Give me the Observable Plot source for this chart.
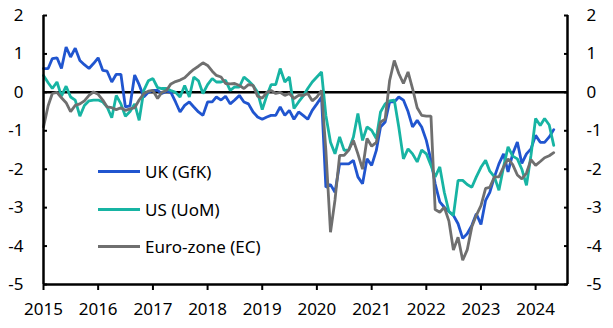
<!DOCTYPE html>
<html><head><meta charset="utf-8">
<script src="https://cdn.jsdelivr.net/npm/d3@7"></script>
<script src="https://cdn.jsdelivr.net/npm/@observablehq/plot@0.6"></script>
<style>
body{margin:0;background:#fff;}
#wrap{position:relative;width:613px;height:328px;font-family:"Noto Sans",sans-serif;}
.leg{position:absolute;left:98px;display:flex;align-items:center;font-size:17px;color:#000;white-space:nowrap;}
.leg span.sw{display:inline-block;width:42px;height:3px;margin-right:5px;}
</style></head>
<body><div id="wrap"></div>
<script>
const startMonth = "2015-01-01";
const ukGfK = [
0.62,0.62,0.88,0.9,0.62,1.18,0.92,1.15,0.83,0.72,0.62,0.75,
0.9,0.57,0.55,0.27,0.47,0.47,-0.38,-0.35,0.45,0.2,-0.12,0.0,
0.05,0.05,-0.03,0.03,0.0,-0.25,-0.51,-0.34,-0.25,-0.38,-0.51,-0.6,
-0.25,-0.25,-0.12,-0.2,-0.1,-0.3,-0.2,-0.08,-0.25,-0.3,-0.51,-0.64,
-0.7,-0.64,-0.6,-0.6,-0.38,-0.6,-0.47,-0.7,-0.51,-0.6,-0.7,-0.47,
-0.3,-0.12,-2.47,-2.4,-2.6,-1.86,-1.86,-1.86,-1.77,-2.2,-2.38,-1.73,
-1.9,-1.51,-0.9,-0.77,-0.25,-0.25,-0.12,-0.2,-0.5,-0.9,-0.73,-0.9,
-1.25,-1.77,-2.38,-2.85,-2.99,-3.1,-3.2,-3.42,-3.8,-3.68,-3.46,-3.16,
-3.44,-2.81,-2.6,-2.2,-1.86,-1.6,-2.07,-1.6,-1.29,-1.85,-1.6,-1.47,
-1.12,-1.3,-1.3,-1.16,-0.97];
const usUoM = [
0.44,0.25,0.1,0.27,-0.1,0.16,-0.12,-0.2,-0.62,-0.34,-0.22,-0.2,
-0.2,-0.25,-0.38,-0.66,-0.08,-0.3,-0.62,-0.5,-0.3,-0.73,0.05,0.3,
0.36,0.12,0.1,0.1,0.05,0.0,-0.12,0.18,-0.12,0.4,0.3,-0.03,
0.2,0.36,0.27,0.27,0.31,0.05,0.14,0.14,0.4,0.3,0.18,0.0,
-0.45,-0.08,0.2,0.2,0.62,0.27,0.4,-0.42,-0.25,-0.1,0.1,0.27,
0.4,0.53,-0.6,-1.3,-1.6,-1.16,-1.51,-1.5,-1.16,-0.55,-1.25,-0.9,
-0.99,-1.2,-0.51,-0.3,-0.22,-0.2,-0.9,-1.73,-1.47,-1.6,-1.81,-1.5,
-1.6,-1.9,-2.2,-1.94,-2.6,-3.1,-3.2,-2.29,-2.29,-2.4,-2.47,-2.2,
-1.95,-1.77,-2.05,-2.2,-2.55,-1.94,-1.42,-1.66,-1.73,-2.0,-2.42,-1.64,
-0.68,-0.86,-0.68,-0.85,-1.38];
const euroEC = [
-0.9,-0.35,-0.03,0.0,-0.14,-0.27,-0.5,-0.34,-0.3,-0.22,-0.08,0.01,
-0.05,-0.2,-0.38,-0.4,-0.45,-0.4,-0.47,-0.43,-0.4,-0.2,-0.03,0.03,
0.05,-0.16,0.0,0.05,0.22,0.28,0.32,0.38,0.5,0.6,0.68,0.77,
0.7,0.55,0.44,0.4,0.23,0.22,0.23,0.18,0.1,0.2,0.18,-0.1,
-0.15,0.0,0.05,-0.03,0.0,-0.08,-0.03,-0.16,-0.08,-0.08,-0.03,-0.22,
-0.12,0.05,-1.5,-3.64,-2.8,-1.64,-1.64,-1.5,-1.25,-1.6,-2.0,-1.2,
-1.4,-1.3,-0.77,-0.7,0.31,0.83,0.49,0.23,0.53,0.1,-0.4,-0.6,
-0.62,-0.62,-3.05,-3.12,-2.99,-3.35,-4.1,-3.77,-4.37,-4.1,-3.5,-3.2,
-2.95,-2.5,-2.47,-2.2,-2.2,-1.94,-1.73,-1.88,-2.15,-2.25,-2.1,-1.75,
-1.9,-1.8,-1.7,-1.65,-1.57];
const seriesNames = ["UK (GfK)", "US (UoM)", "Euro-zone (EC)"];
const seriesColors = ["#2055cf", "#17b4a3", "#6f6f6f"];
const yTicks = [-5,-4,-3,-2,-1,0,1,2];
const yDomain = [-5, 2];
const xTickYears = [2015,2016,2017,2018,2019,2020,2021,2022,2023,2024];
const xDomain = [new Date("2015-01-01"), new Date("2024-08-01")];

const start = new Date(startMonth);
const toRows = (vals, name) => vals.map((v, i) => ({date: d3.utcMonth.offset(start, i), value: v, series: name}));
const rows = [
  ...toRows(ukGfK, seriesNames[0]),
  ...toRows(usUoM, seriesNames[1]),
  ...toRows(euroEC, seriesNames[2])
];
const xTicks = xTickYears.map(y => new Date(Date.UTC(y, 0, 1)));
const fmt = d => d < 0 ? "-" + Math.abs(d) : String(d);

const chart = Plot.plot({
  width: 613, height: 328,
  marginLeft: 43, marginRight: 46, marginTop: 15, marginBottom: 44,
  style: {fontFamily: "Noto Sans, sans-serif", fontSize: "17px", color: "#000", background: "white", overflow: "visible"},
  x: {type: "utc", domain: xDomain},
  y: {domain: yDomain},
  color: {domain: seriesNames, range: seriesColors},
  marks: [
    Plot.ruleY([0], {stroke: "#000", strokeWidth: 2.5}),
    Plot.line(rows, {x: "date", y: "value", z: "series", stroke: "series", strokeWidth: 2.8, strokeLinejoin: "miter"}),
    Plot.ruleX([xDomain[0]], {stroke: "#000", strokeWidth: 2.5}),
    Plot.ruleX([xDomain[1]], {stroke: "#000", strokeWidth: 2.5}),
    Plot.ruleY([yDomain[0]], {stroke: "#000", strokeWidth: 2.5}),
    Plot.axisY({anchor: "left", ticks: yTicks, tickSize: 4, dx: 4, tickFormat: () => "", label: null, strokeWidth: 2}),
    Plot.axisY({anchor: "left", ticks: yTicks, tickSize: 0, tickPadding: 20, tickFormat: fmt, label: null}),
    Plot.axisY({anchor: "right", ticks: yTicks, tickSize: 4, dx: -4, tickFormat: () => "", label: null, strokeWidth: 2}),
    Plot.axisY({anchor: "right", ticks: yTicks, tickSize: 0, tickPadding: 19, tickFormat: fmt, label: null}),
    Plot.axisX({ticks: xTicks, tickSize: 6, tickPadding: 0, tickFormat: () => "", label: null, strokeWidth: 2}),
    Plot.axisX({ticks: xTicks, tickFormat: "%Y", tickSize: 0, tickPadding: 8, dy: 10, label: null})
  ]
});
const wrap = document.getElementById("wrap");
wrap.appendChild(chart);
const legendTops = [171, 209, 246];
seriesNames.forEach((n, i) => {
  const d = document.createElement("div");
  d.className = "leg";
  d.style.top = (legendTops[i] - 11) + "px";
  d.style.height = "22px";
  const sw = document.createElement("span");
  sw.className = "sw";
  sw.style.background = seriesColors[i];
  d.appendChild(sw);
  d.appendChild(document.createTextNode(n));
  wrap.appendChild(d);
});
</script></body></html>
